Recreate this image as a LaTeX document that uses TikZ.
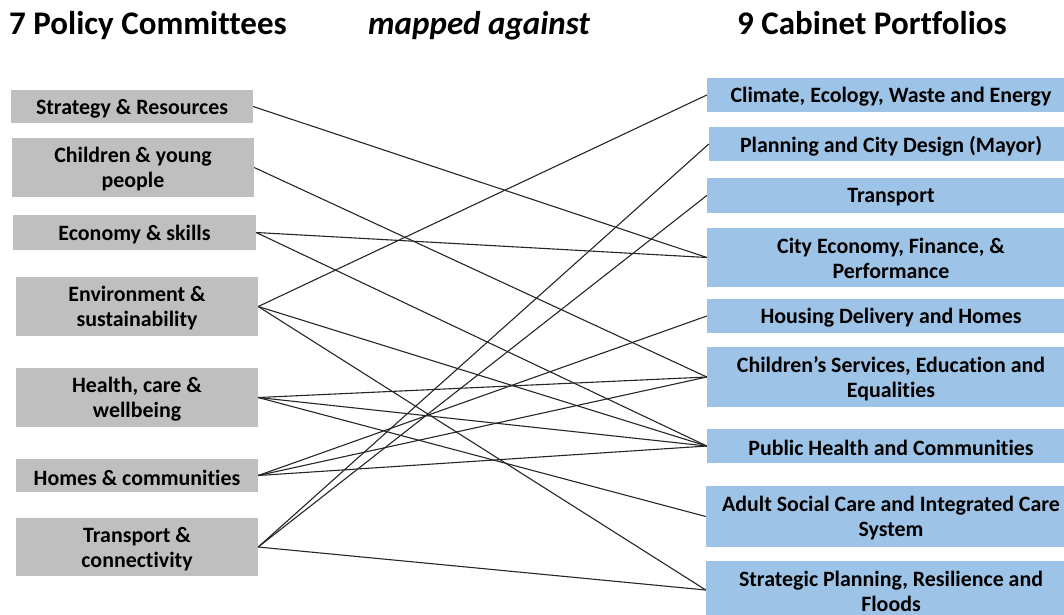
\documentclass[tikz,border=0pt]{standalone}
\usepackage{fontspec}
\setmainfont[Ligatures=NoCommon]{Carlito}
\definecolor{cmtgray}{HTML}{BFBFBF}
\definecolor{pfblue}{HTML}{9DC3E6}
\newcommand\cmtboxfont{\fontsize{21.9}{25}\selectfont\bfseries}
\newcommand\cmttitlefont{\fontsize{33}{38}\selectfont\bfseries}
\begin{document}
\begin{tikzpicture}[x=1pt,y=-1pt,
  committee/.style={rectangle, fill=cmtgray, draw=none, inner sep=0pt,
    minimum width=242pt},
  portfolio/.style={rectangle, fill=pfblue, draw=none, inner sep=0pt,
    minimum width=368pt},
  boxtext/.style={inner sep=0pt, align=center, font=\cmtboxfont},
  link/.style={draw=black!85, line width=1.1pt},
  heading/.style={anchor=base west, inner sep=0pt, font=\cmttitlefont}]

\useasboundingbox (0,0) rectangle (1064,614);

% column headings
\node[heading] (h1) at (9,34) {7 Policy Committees};
\node[heading] (h2) at (368,34) {\itshape mapped against};
\node[heading] (h3) at (737,34) {9 Cabinet Portfolios};

% policy committees
\node[committee, minimum height=33pt] (strat) at (132,106.5) {};
\node[committee, minimum height=59pt] (child) at (133,167.5) {};
\node[committee, minimum height=35pt, minimum width=243pt] (econ) at (134.5,232.5) {};
\node[committee, minimum height=59pt] (env) at (137,306.5) {};
\node[committee, minimum height=59pt] (health) at (137,397.5) {};
\node[committee, minimum height=33pt] (homes) at (137,475.5) {};
\node[committee, minimum height=58pt] (trans) at (137,547) {};

\node[boxtext] (strat-t) at ([yshift=-2pt]strat.center) {Strategy \& Resources};
\node[boxtext] (child-t) at ([yshift=-2pt]child.center) {Children \& young\\people};
\node[boxtext] (econ-t) at ([yshift=-2pt]econ.center) {Economy \& skills};
\node[boxtext] (env-t) at ([yshift=-2pt]env.center) {Environment \&\\sustainability};
\node[boxtext] (health-t) at ([yshift=-2pt]health.center) {Health, care \&\\wellbeing};
\node[boxtext] (homes-t) at ([yshift=-2pt]homes.center) {Homes \& communities};
\node[boxtext] (trans-t) at ([yshift=-2pt]trans.center) {Transport \&\\connectivity};

% cabinet portfolios
\node[portfolio, minimum height=34pt] (climate) at (891,95) {};
\node[portfolio, minimum height=34pt, minimum width=364pt] (plan) at (891,144) {};
\node[portfolio, minimum height=35pt] (ptrans) at (891,195.5) {};
\node[portfolio, minimum height=59pt] (cityec) at (891,257.5) {};
\node[portfolio, minimum height=34pt] (housing) at (891,316) {};
\node[portfolio, minimum height=60pt] (cserv) at (891,377) {};
\node[portfolio, minimum height=34pt] (phealth) at (891,446) {};
\node[portfolio, minimum height=61pt, minimum width=370pt] (adult) at (891,516.5) {};
\node[portfolio, minimum height=58pt, minimum width=370pt] (strplan) at (891,590) {};

\node[boxtext] (climate-t) at ([yshift=-2pt]climate.center) {Climate, Ecology, Waste and Energy};
\node[boxtext] (plan-t) at ([yshift=-2pt]plan.center) {Planning and City Design (Mayor)};
\node[boxtext] (ptrans-t) at ([yshift=-2pt]ptrans.center) {Transport};
\node[boxtext] (cityec-t) at ([yshift=-1pt]cityec.center) {City Economy, Finance, \&\\Performance};
\node[boxtext] (housing-t) at ([yshift=-2pt]housing.center) {Housing Delivery and Homes};
\node[boxtext] (cserv-t) at ([yshift=-2pt]cserv.center) {Children’s Services, Education and\\Equalities};
\node[boxtext] (phealth-t) at ([yshift=-2pt]phealth.center) {Public Health and Communities};
\node[boxtext] (adult-t) at ([yshift=-2pt]adult.center) {Adult Social Care and Integrated Care\\System};
\node[boxtext] (strplan-t) at ([yshift=-1pt]strplan.center) {Strategic Planning, Resilience and\\Floods};

% committee-to-portfolio links
\draw[link] (strat.east) -- (cityec.west);
\draw[link] (child.east) -- (cserv.west);
\draw[link] (econ.east) -- (cityec.west);
\draw[link] (econ.east) -- (phealth.west);
\draw[link] (env.east) -- (climate.west);
\draw[link] (env.east) -- (phealth.west);
\draw[link] (env.east) -- (strplan.west);
\draw[link] (health.east) -- (cserv.west);
\draw[link] (health.east) -- (phealth.west);
\draw[link] (health.east) -- (adult.west);
\draw[link] (homes.east) -- (housing.west);
\draw[link] (homes.east) -- (cserv.west);
\draw[link] (homes.east) -- (phealth.west);
\draw[link] (trans.east) -- (plan.west);
\draw[link] (trans.east) -- (ptrans.west);
\draw[link] (trans.east) -- (strplan.west);
\end{tikzpicture}
\end{document}
